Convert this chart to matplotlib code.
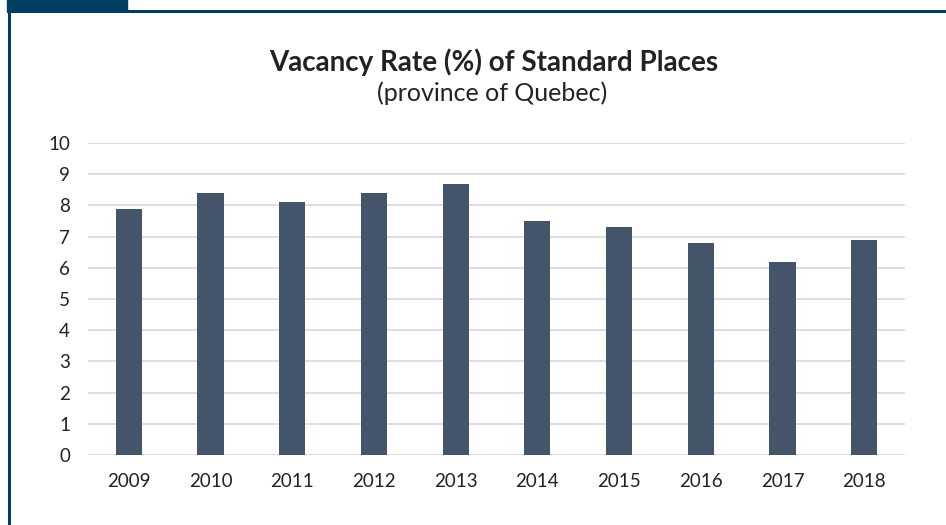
import numpy as np
import matplotlib.pyplot as plt
from matplotlib.patches import Rectangle
from matplotlib.lines import Line2D

plt.rcParams['font.family'] = ['Lato', 'DejaVu Sans']

years = ['2009', '2010', '2011', '2012', '2013', '2014', '2015', '2016', '2017', '2018']
vacancy = [7.9, 8.4, 8.1, 8.4, 8.7, 7.5, 7.3, 6.8, 6.2, 6.9]

W, H = 946, 525
fig = plt.figure(figsize=(W / 100, H / 100), dpi=100)
ax = fig.add_axes([88 / W, 1 - 455 / H, (905 - 88) / W, (455 - 143) / H])

x = np.arange(len(years))
ax.bar(x, vacancy, width=0.32, color='#44546a', zorder=3)
ax.set_xlim(-0.5, len(years) - 0.5)
ax.set_ylim(0, 10)
ax.set_yticks(range(0, 11))
ax.set_xticks(x)
ax.set_xticklabels(years)
ax.grid(axis='y', color='#d9d9d9', linewidth=1.2, zorder=0)
for s in ax.spines.values():
    s.set_visible(False)
ax.tick_params(length=0, labelsize=13.5, colors='#222222')
ax.tick_params(axis='x', pad=13)
ax.tick_params(axis='y', pad=13)

fig.text(494 / W, 1 - 62 / H, 'Vacancy Rate (%) of Standard Places', ha='center', va='center',
         fontsize=20, fontweight='bold', color='#222222')
fig.text(492 / W, 1 - 93 / H, '(province of Quebec)', ha='center', va='center',
         fontsize=18, color='#222222')

# frame decoration
border = '#003e62'
fig.patches.append(Rectangle((7 / W, 1 - 11 / H), 120 / W, 11 / H, transform=fig.transFigure,
                             color=border, zorder=5))
fig.lines.append(Line2D([8.5 / W, 8.5 / W], [0, 1 - 10 / H], transform=fig.transFigure,
                        color=border, linewidth=2.2))
fig.lines.append(Line2D([8 / W, 1], [1 - 11 / H, 1 - 11 / H], transform=fig.transFigure,
                        color=border, linewidth=2.2))

fig.savefig('out.png', dpi=100)
